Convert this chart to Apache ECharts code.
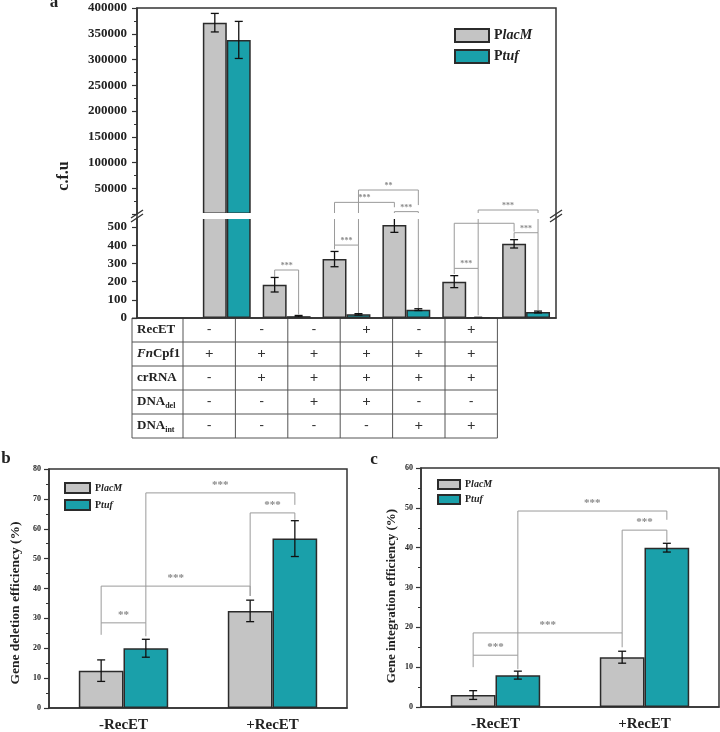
<!DOCTYPE html>
<html>
<head>
<meta charset="utf-8">
<script src="https://cdn.jsdelivr.net/npm/echarts@6/dist/echarts.min.js"></script>
<style>
html, body { margin: 0; padding: 0; background: #fff; }
#chart { width: 720px; height: 732px; }
</style>
</head>
<body>
<div id="chart"></div>
<script>
// ---------- panel a : colony counts ----------
var categoriesA = ['', 'C1', 'C2', 'C3', 'C4', 'C5', 'C6'];
var placmA = ['-', 371500, 183, 324, 511, 200, 408];
var placmErrA = [0, 18000, 40, 42, 40, 33, 23];
var ptufA = ['-', 338000, 10, 20, 46, 3, 33];
var ptufErrA = [0, 36000, 4, 4, 5, 1, 5];
var breakA = 550;                       // axis break: above this -> upper part
var ticksUpperA = [0, 50000, 100000, 150000, 200000, 250000, 300000, 350000, 400000];
var ticksLowerA = [0, 100, 200, 300, 400, 500];
// [cat1, side1, cat2, side2, top, left leg end, right leg end]   side: -1 PlacM, 1 Ptuf
var bracketsA = [
    [2, -1, 2, 1, 264, 227, 20],
    [3, -1, 3, 1, 401, 378, 26],
    [3, -1, 4, -1, 636, 401, 609],
    [3, 1, 4, 1, 704, 401, 621],
    [4, -1, 4, 1, 585, 557, 55],
    [5, -1, 5, 1, 273, 242, 15],
    [5, -1, 6, -1, 521, 273, 475],
    [6, -1, 6, 1, 469, 438, 44],
    [5, 1, 6, 1, 594, 273, 469]
];
var bracketLabelsA = ['***', '***', '***', '**', '***', '***', '***', '***', '***'];

// table under panel a
var tableRows = ['RecET', 'FnCpf1', 'crRNA', 'DNAdel', 'DNAint'];
var recET  = ['-', '-', '-', '+', '-', '+'];
var fnCpf1 = ['+', '+', '+', '+', '+', '+'];
var crRNA  = ['-', '+', '+', '+', '+', '+'];
var dnaDel = ['-', '-', '+', '+', '-', '-'];
var dnaInt = ['-', '-', '-', '-', '+', '+'];

// ---------- panel b : deletion efficiency ----------
var categoriesB = ['-RecET', '+RecET'];
var placmB = [12.5, 32.5];
var placmErrB = [3.6, 3.6];
var ptufB = [20, 56.7];
var ptufErrB = [3, 6];
var ticksB = [0, 10, 20, 30, 40, 50, 60, 70, 80];
var bracketsB = [
    [0, -1, 0, 1, 28.5, 24.5, 24],
    [0, -1, 1, -1, 40.8, 28.5, 37.5],
    [1, -1, 1, 1, 65.3, 37.5, 63],
    [0, 1, 1, 1, 72, 28.5, 68]
];
var bracketLabelsB = ['**', '***', '***', '***'];

// ---------- panel c : integration efficiency ----------
var categoriesC = ['-RecET', '+RecET'];
var placmC = [3, 12.5];
var placmErrC = [1.1, 1.5];
var ptufC = [8, 40];
var ptufErrC = [1, 1.1];
var ticksC = [0, 10, 20, 30, 40, 50, 60];
var bracketsC = [
    [0, -1, 0, 1, 13, 10, 9.5],
    [0, -1, 1, -1, 18.6, 13, 15],
    [1, -1, 1, 1, 44.4, 18.6, 41.5],
    [0, 1, 1, 1, 49.2, 13, 47]
];
var bracketLabelsC = ['***', '***', '***', '***'];

var GRAY = '#c4c4c4', TEAL = '#1aa0aa', EDGE = '#2b2b2b';
var SERIF = '"Liberation Serif", "Times New Roman", serif';

var gA1 = { left: 137, top: 8, width: 419, height: 206 };
var gA2 = { left: 137, top: 218, width: 419, height: 100 };
var gB = { left: 49, top: 469, width: 298, height: 239 };
var gC = { left: 421, top: 468, width: 298, height: 239 };

var myChart = echarts.init(document.getElementById('chart'));

function errData(vals, errs, side, keep) {
    var out = [];
    vals.forEach(function (v, i) {
        if (typeof v === 'number' && keep(v)) out.push([i, v, errs[i], side]);
    });
    return out;
}

function errorRenderer(frac, cap) {
    return function (params, api) {
        var band = api.size([1, 0])[0];
        var x = api.coord([api.value(0), 0])[0] + api.value(3) * band * frac / 2;
        var v = api.value(1), e = api.value(2);
        var yHi = api.coord([api.value(0), v + e])[1];
        var yLo = api.coord([api.value(0), v - e])[1];
        var st = { stroke: '#111', lineWidth: 1.3 };
        return {
            type: 'group',
            children: [
                { type: 'line', shape: { x1: x, y1: yHi, x2: x, y2: yLo }, style: st },
                { type: 'line', shape: { x1: x - cap, y1: yHi, x2: x + cap, y2: yHi }, style: st },
                { type: 'line', shape: { x1: x - cap, y1: yLo, x2: x + cap, y2: yLo }, style: st }
            ]
        };
    };
}

function bracketRenderer(frac, labels, fontSize, lift) {
    return function (params, api) {
        var band = api.size([1, 0])[0];
        var off = band * frac / 2;
        var x1 = api.coord([api.value(0), 0])[0] + api.value(1) * off;
        var x2 = api.coord([api.value(2), 0])[0] + api.value(3) * off;
        var yTop = api.coord([0, api.value(4)])[1];
        var yL = api.coord([0, api.value(5)])[1];
        var yR = api.coord([0, api.value(6)])[1];
        return {
            type: 'group',
            children: [
                {
                    type: 'polyline',
                    shape: { points: [[x1, yL], [x1, yTop], [x2, yTop], [x2, yR]] },
                    style: { stroke: '#9a9a9a', lineWidth: 1, fill: 'none' }
                },
                {
                    type: 'text',
                    style: {
                        text: labels[params.dataIndex], x: (x1 + x2) / 2, y: yTop - lift,
                        align: 'center', verticalAlign: 'middle',
                        fontSize: fontSize, fontWeight: 'bold', fontFamily: SERIF, fill: '#8a8a8a'
                    }
                }
            ]
        };
    };
}

function barSeries(name, data, gi, width) {
    return {
        type: 'bar', name: name, data: data,
        xAxisIndex: gi, yAxisIndex: gi,
        barWidth: width, barGap: '0%',
        itemStyle: { color: name === 'PlacM' ? GRAY : TEAL, borderColor: EDGE, borderWidth: 1.5 }
    };
}

function catAxis(gi, data, showLabel, fontSize) {
    return {
        type: 'category', gridIndex: gi, data: data,
        axisLine: { show: true, lineStyle: { color: '#333', width: 1.5 } },
        axisTick: { show: false },
        axisLabel: { show: showLabel, fontFamily: SERIF, fontWeight: 'bold', fontSize: fontSize || 12, color: '#222', margin: 10 },
        splitLine: { show: false }
    };
}

function valAxis(gi, ticks, fontSize, margin, extra) {
    var ax = {
        type: 'value', gridIndex: gi,
        min: ticks[0], max: ticks[ticks.length - 1], interval: ticks[1] - ticks[0],
        axisLine: { show: true, lineStyle: { color: '#333', width: 1.5 } },
        axisTick: { show: true, length: 5, lineStyle: { color: '#333', width: 1.2 } },
        minorTick: { show: true, splitNumber: 2, length: 3, lineStyle: { color: '#333', width: 1 } },
        axisLabel: { fontFamily: SERIF, fontWeight: 'bold', fontSize: fontSize, color: '#222', margin: margin },
        splitLine: { show: false }
    };
    for (var k in extra) ax[k] = extra[k];
    return ax;
}

function legendFor(left, top, w, h, gap, fs) {
    return {
        left: left, top: top, orient: 'vertical', padding: 0,
        itemWidth: w, itemHeight: h, itemGap: gap, icon: 'rect',
        data: ['PlacM', 'Ptuf'],
        formatter: function (n) { return '{p|P}{i|' + n.slice(1) + '}'; },
        textStyle: {
            rich: {
                p: { fontFamily: SERIF, fontWeight: 'bold', fontSize: fs, color: '#222' },
                i: { fontFamily: SERIF, fontWeight: 'bold', fontStyle: 'italic', fontSize: fs, color: '#222' }
            }
        }
    };
}

// ---------- graphics: frame, break, table, titles ----------
var graphics = [];
// white gap through the broken axis
graphics.push({ type: 'rect', z: 50, shape: { x: gA1.left + 1, y: gA1.top + gA1.height - 1, width: gA1.width - 2, height: gA2.top - gA1.top - gA1.height + 2 }, style: { fill: '#fff' } });
graphics.push({ type: 'rect', z: 60, shape: { x: gA1.left, y: gA1.top, width: gA1.width, height: gA2.top + gA2.height - gA1.top }, style: { fill: 'none', stroke: '#333', lineWidth: 1.5 } });
[gA1.left, gA1.left + gA1.width].forEach(function (bx) {
    var by = (gA1.top + gA1.height + gA2.top) / 2;
    [-2, 2].forEach(function (d) {
        graphics.push({ type: 'line', z: 61, shape: { x1: bx - 6, y1: by + d + 4, x2: bx + 6, y2: by + d - 4 }, style: { stroke: '#333', lineWidth: 1.3 } });
    });
});

// table
var tLeft = 132, tLabelW = 51, tColW = 52.4, tTop = gA2.top + gA2.height, tRowH = 24;
var tRight = tLeft + tLabelW + tColW * 6;
var tableSigns = [recET, fnCpf1, crRNA, dnaDel, dnaInt];
for (var r = 0; r <= tableRows.length; r++) {
    graphics.push({ type: 'line', shape: { x1: tLeft, y1: tTop + r * tRowH, x2: tRight, y2: tTop + r * tRowH }, style: { stroke: '#555', lineWidth: 1 } });
}
graphics.push({ type: 'line', shape: { x1: tLeft, y1: tTop, x2: tLeft, y2: tTop + tableRows.length * tRowH }, style: { stroke: '#555', lineWidth: 1 } });
for (var c = 0; c <= 6; c++) {
    var cx = tLeft + tLabelW + c * tColW;
    graphics.push({ type: 'line', shape: { x1: cx, y1: tTop, x2: cx, y2: tTop + tableRows.length * tRowH }, style: { stroke: '#555', lineWidth: 1 } });
}
var rowText = {
    RecET: '{b|RecET}',
    FnCpf1: '{bi|Fn}{b|Cpf1}',
    crRNA: '{b|crRNA}',
    DNAdel: '{b|DNA}{s|del}',
    DNAint: '{b|DNA}{s|int}'
};
tableRows.forEach(function (name, r) {
    var cy = tTop + r * tRowH + tRowH / 2;
    graphics.push({
        type: 'text', z: 10,
        style: {
            text: rowText[name], x: tLeft + 5, y: cy, align: 'left', verticalAlign: 'middle', fill: '#222',
            rich: {
                b: { fontFamily: SERIF, fontWeight: 'bold', fontSize: 13 },
                bi: { fontFamily: SERIF, fontWeight: 'bold', fontStyle: 'italic', fontSize: 13 },
                s: { fontFamily: SERIF, fontWeight: 'bold', fontSize: 8, padding: [7, 0, 0, 0] }
            }
        }
    });
    tableSigns[r].forEach(function (sg, c) {
        graphics.push({
            type: 'text', z: 10,
            style: {
                text: sg, x: tLeft + tLabelW + c * tColW + tColW / 2, y: cy,
                align: 'center', verticalAlign: 'middle', fill: '#333',
                fontFamily: SERIF, fontWeight: 'bold', fontSize: sg === '+' ? 15 : 13
            }
        });
    });
});

function label(text, x, y, fs, rot) {
    return {
        type: 'text', z: 10, x: x, y: y, rotation: rot || 0,
        style: { text: text, x: 0, y: 0, align: 'center', verticalAlign: 'middle', fill: '#222', fontFamily: SERIF, fontWeight: 'bold', fontSize: fs }
    };
}
graphics.push(label('a', 54, 3, 17));
graphics.push(label('b', 6, 459, 17));
graphics.push(label('c', 374, 460, 17));
graphics.push(label('c.f.u', 64, 176, 16, Math.PI / 2));
graphics.push(label('Gene deletion efficiency (%)', 16, 603, 13.5, Math.PI / 2));
graphics.push(label('Gene integration efficiency (%)', 392, 596, 13, Math.PI / 2));

var upper = function (v) { return typeof v === 'number' && v > breakA ? v : '-'; };
var isUpper = function (v) { return v > breakA; };
var isLower = function (v) { return v <= breakA; };

var option = {
    backgroundColor: '#fff',
    animation: false,
    grid: [
        Object.assign({ outerBoundsMode: 'none' }, gA1),
        Object.assign({ outerBoundsMode: 'none' }, gA2),
        Object.assign({ outerBoundsMode: 'none', show: true, borderColor: '#333', borderWidth: 1.5, backgroundColor: 'transparent' }, gB),
        Object.assign({ outerBoundsMode: 'none', show: true, borderColor: '#333', borderWidth: 1.5, backgroundColor: 'transparent' }, gC)
    ],
    xAxis: [
        Object.assign(catAxis(0, categoriesA, false), { show: false }),
        catAxis(1, categoriesA, false),
        catAxis(2, categoriesB, true, 15),
        catAxis(3, categoriesC, true, 15)
    ],
    yAxis: [
        valAxis(0, ticksUpperA, 13, 10, { axisLabel: { fontFamily: SERIF, fontWeight: 'bold', fontSize: 13, color: '#222', margin: 10, formatter: function (v) { return v === 0 ? '' : v; } } }),
        valAxis(1, ticksLowerA.concat([breakA]), 13, 10, {
            interval: ticksLowerA[1] - ticksLowerA[0], minorTick: { show: false },
            axisLabel: { fontFamily: SERIF, fontWeight: 'bold', fontSize: 13, color: '#222', margin: 10, showMaxLabel: false, formatter: function (v) { return v % 100 === 0 ? v : ''; } }
        }),
        valAxis(2, ticksB, 8, 8),
        valAxis(3, ticksC, 8, 8)
    ],
    legend: [
        legendFor(454, 28, 34, 13, 6, 14),
        legendFor(64, 482, 25, 10, 5, 10),
        legendFor(437, 479, 22, 9, 4, 10)
    ],
    graphic: { elements: graphics },
    series: [
        barSeries('PlacM', placmA.map(upper), 0, '40%'),
        barSeries('Ptuf', ptufA.map(upper), 0, '40%'),
        barSeries('PlacM', placmA, 1, '40%'),
        barSeries('Ptuf', ptufA, 1, '40%'),
        { type: 'custom', xAxisIndex: 0, yAxisIndex: 0, z: 5, renderItem: errorRenderer(0.4, 4),
          data: errData(placmA, placmErrA, -1, isUpper).concat(errData(ptufA, ptufErrA, 1, isUpper)) },
        { type: 'custom', xAxisIndex: 1, yAxisIndex: 1, z: 5, renderItem: errorRenderer(0.4, 4),
          data: errData(placmA, placmErrA, -1, isLower).concat(errData(ptufA, ptufErrA, 1, isLower)) },
        { type: 'custom', xAxisIndex: 1, yAxisIndex: 1, z: 4, encode: { x: 0, y: 4 },
          renderItem: bracketRenderer(0.4, bracketLabelsA, 8, 4), data: bracketsA },

        barSeries('PlacM', placmB, 2, '30%'),
        barSeries('Ptuf', ptufB, 2, '30%'),
        { type: 'custom', xAxisIndex: 2, yAxisIndex: 2, z: 5, renderItem: errorRenderer(0.3, 4),
          data: errData(placmB, placmErrB, -1, isLower).concat(errData(ptufB, ptufErrB, 1, isLower)) },
        { type: 'custom', xAxisIndex: 2, yAxisIndex: 2, z: 4, encode: { x: 0, y: 4 },
          renderItem: bracketRenderer(0.3, bracketLabelsB, 11, 8), data: bracketsB },

        barSeries('PlacM', placmC, 3, '30%'),
        barSeries('Ptuf', ptufC, 3, '30%'),
        { type: 'custom', xAxisIndex: 3, yAxisIndex: 3, z: 5, renderItem: errorRenderer(0.3, 4),
          data: errData(placmC, placmErrC, -1, isLower).concat(errData(ptufC, ptufErrC, 1, isLower)) },
        { type: 'custom', xAxisIndex: 3, yAxisIndex: 3, z: 4, encode: { x: 0, y: 4 },
          renderItem: bracketRenderer(0.3, bracketLabelsC, 11, 8), data: bracketsC }
    ]
};

myChart.setOption(option);
</script>
</body>
</html>
